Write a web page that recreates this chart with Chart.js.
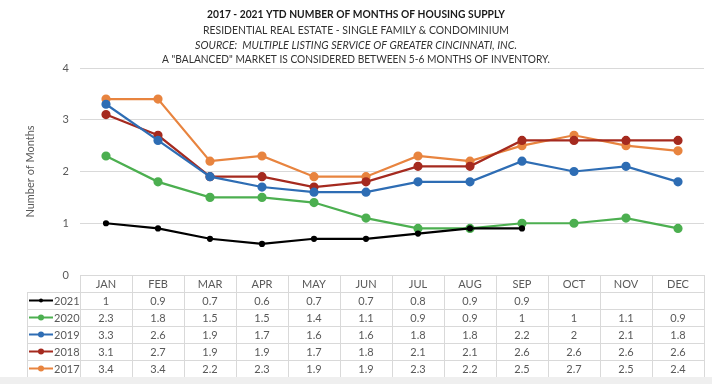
<!DOCTYPE html>
<html>
<head>
<meta charset="utf-8">
<script src="https://cdn.jsdelivr.net/npm/chart.js@4.4.1/dist/chart.umd.min.js"></script>
<style>
  html, body { margin: 0; padding: 0; background: #fff; }
  #wrap { width: 712px; height: 384px; position: relative; }
</style>
</head>
<body>
<div id="wrap"><canvas id="supplyChart" width="712" height="384"></canvas></div>
<script>
// months shown on the x axis / table header
const months = ["JAN", "FEB", "MAR", "APR", "MAY", "JUN", "JUL", "AUG", "SEP", "OCT", "NOV", "DEC"];
const yTicks = [0, 1, 2, 3, 4];

// months of supply per year
const y2021 = [1, 0.9, 0.7, 0.6, 0.7, 0.7, 0.8, 0.9, 0.9, null, null, null];
const y2020 = [2.3, 1.8, 1.5, 1.5, 1.4, 1.1, 0.9, 0.9, 1, 1, 1.1, 0.9];
const y2019 = [3.3, 2.6, 1.9, 1.7, 1.6, 1.6, 1.8, 1.8, 2.2, 2, 2.1, 1.8];
const y2018 = [3.1, 2.7, 1.9, 1.9, 1.7, 1.8, 2.1, 2.1, 2.6, 2.6, 2.6, 2.6];
const y2017 = [3.4, 3.4, 2.2, 2.3, 1.9, 1.9, 2.3, 2.2, 2.5, 2.7, 2.5, 2.4];

const titleLines = [
  { text: "2017 - 2021 YTD NUMBER OF MONTHS OF HOUSING SUPPLY", font: "bold 12px Lato", color: "#1a1a1a", y: 14, w: 298 },
  { text: "RESIDENTIAL REAL ESTATE - SINGLE FAMILY & CONDOMINIUM", font: "12px Lato", color: "#333333", y: 30, w: 306 },
  { text: "SOURCE:  MULTIPLE LISTING SERVICE OF GREATER CINCINNATI, INC.", font: "italic 12px Lato", color: "#333333", y: 45, w: 322 },
  { text: "A \"BALANCED\" MARKET IS CONSIDERED BETWEEN 5-6 MONTHS OF INVENTORY.", font: "12px Lato", color: "#333333", y: 59, w: 388 }
];

function series(label, data, color, radius) {
  return {
    label: label,
    data: data,
    borderColor: color,
    backgroundColor: color,
    borderWidth: 2.2,
    pointRadius: radius,
    pointHoverRadius: radius,
    tension: 0,
    spanGaps: false
  };
}

// title lines + data table under the plot
const extrasPlugin = {
  id: "extras",
  afterDraw(chart) {
    const ctx = chart.ctx;
    const x = chart.scales.x;
    const area = chart.chartArea;
    ctx.save();

    ctx.textAlign = "center";
    ctx.textBaseline = "middle";
    titleLines.forEach(l => {
      ctx.font = l.font;
      ctx.fillStyle = l.color;
      ctx.fillText(l.text, 356, l.y, l.w);
    });

    const colW = (area.right - area.left) / months.length;
    const rowH = 17;
    const top = area.bottom;
    const legendLeft = 27;
    const rows = chart.data.datasets;

    ctx.strokeStyle = "#d9d9d9";
    ctx.lineWidth = 1;
    ctx.font = "11px Lato";
    ctx.fillStyle = "#595959";

    // header row
    months.forEach((m, i) => {
      const cx = x.getPixelForValue(i);
      ctx.strokeRect(Math.round(cx - colW / 2) + 0.5, top + 0.5, colW, rowH);
      ctx.fillStyle = "#595959";
      ctx.fillText(m, cx, top + rowH / 2 + 1);
    });

    rows.forEach((ds, r) => {
      const ry = top + rowH * (r + 1);
      // legend cell
      ctx.strokeRect(legendLeft + 0.5, ry + 0.5, area.left - legendLeft, rowH);
      const my = ry + rowH / 2;
      ctx.strokeStyle = ds.borderColor;
      ctx.lineWidth = 2;
      ctx.beginPath();
      ctx.moveTo(legendLeft + 2, my);
      ctx.lineTo(legendLeft + 26, my);
      ctx.stroke();
      ctx.fillStyle = ds.borderColor;
      ctx.beginPath();
      ctx.arc(legendLeft + 14, my, ds.pointRadius > 3 ? 3 : 2, 0, Math.PI * 2);
      ctx.fill();
      ctx.fillStyle = "#595959";
      ctx.textAlign = "left";
      ctx.fillText(ds.label, legendLeft + 27, my + 1);
      ctx.textAlign = "center";
      ctx.strokeStyle = "#d9d9d9";
      ctx.lineWidth = 1;

      months.forEach((m, i) => {
        const cx = x.getPixelForValue(i);
        ctx.strokeRect(Math.round(cx - colW / 2) + 0.5, ry + 0.5, colW, rowH);
        const v = ds.data[i];
        if (v !== null && v !== undefined) {
          ctx.fillStyle = "#595959";
          ctx.fillText(String(v), cx, my + 1);
        }
      });
    });

    // grey strip along the bottom edge
    ctx.fillStyle = "#efefef";
    ctx.fillRect(0, 377, chart.width, chart.height - 377);
    ctx.restore();
  }
};

new Chart(document.getElementById("supplyChart"), {
  type: "line",
  data: {
    labels: months,
    datasets: [
      series("2021", y2021, "#000000", 2),
      series("2020", y2020, "#4caf50", 3.5),
      series("2019", y2019, "#2e6db4", 3.5),
      series("2018", y2018, "#a52a1f", 3.5),
      series("2017", y2017, "#e8843f", 3.5)
    ]
  },
  options: {
    responsive: false,
    animation: false,
    devicePixelRatio: 1,
    layout: { padding: { top: 68, bottom: 109, left: 24, right: 8 } },
    plugins: {
      legend: { display: false },
      title: { display: false },
      tooltip: { enabled: false }
    },
    scales: {
      x: {
        offset: true,
        grid: { display: false },
        border: { display: false },
        ticks: { display: false },
        afterFit: s => { s.height = 0; }
      },
      y: {
        min: 0,
        max: 4,
        afterBuildTicks: s => { s.ticks = yTicks.map(v => ({ value: v })); },
        afterFit: s => { s.width = 56; },
        grid: { color: "#d9d9d9", drawTicks: false },
        border: { display: false },
        ticks: { color: "#595959", font: { family: "Lato", size: 11 }, padding: 11 },
        title: {
          display: true,
          text: "Number of Months",
          color: "#595959",
          font: { family: "Lato", size: 11 },
          padding: 0
        }
      }
    }
  },
  plugins: [extrasPlugin]
});
</script>
</body>
</html>
